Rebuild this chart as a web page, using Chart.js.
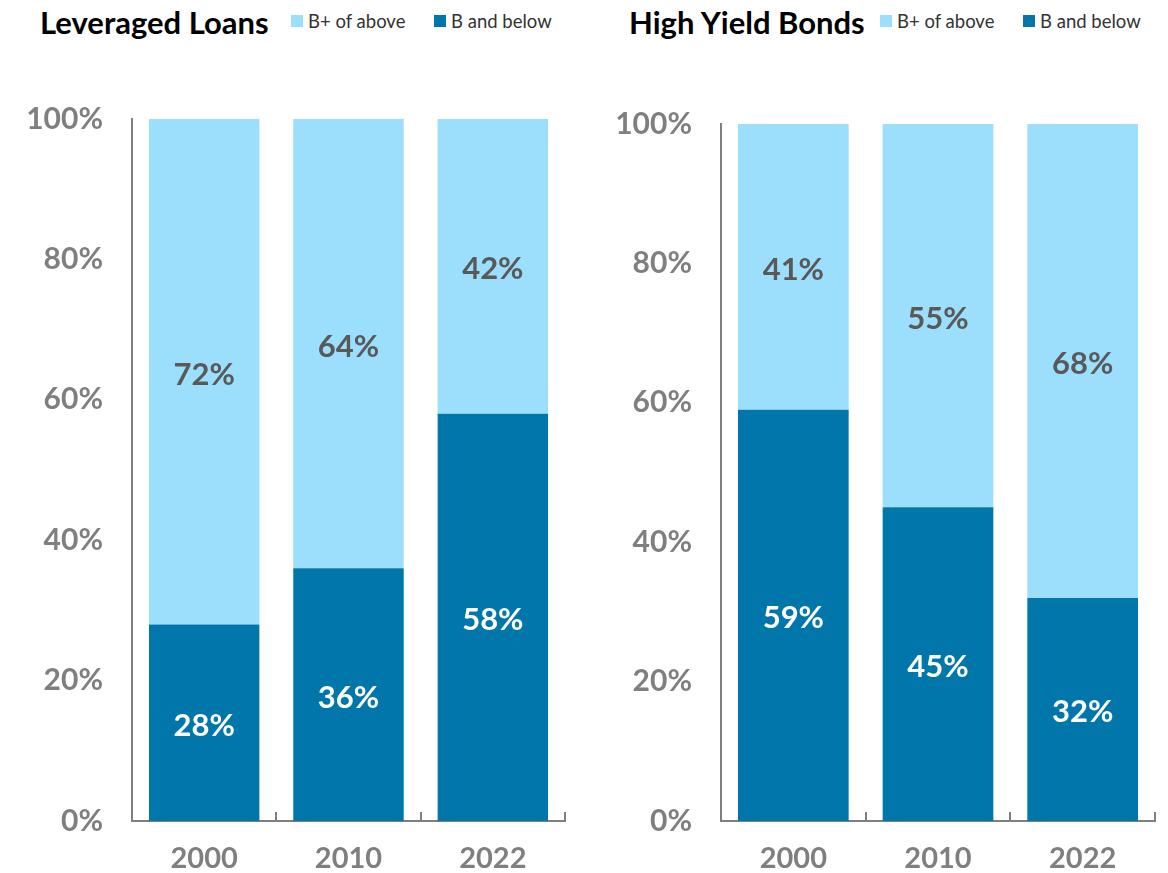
<!DOCTYPE html>
<html>
<head>
<meta charset="utf-8">
<script src="https://cdn.jsdelivr.net/npm/chart.js@4"></script>
<style>
  html, body { margin: 0; padding: 0; background: #fff; }
  body { width: 1168px; height: 873px; position: relative; overflow: hidden; font-family: Lato, "Open Sans", sans-serif; }
  .panel { position: absolute; top: 0; width: 584px; height: 873px; }
  .head__title { position: absolute; top: 2px; font-weight: 700; font-size: 31px; line-height: 40px; color: #000; white-space: nowrap; }
  .key { position: absolute; top: 10px; display: flex; align-items: center; font-size: 18.5px; line-height: 22px; color: #333; white-space: nowrap; }
  .key i { display: inline-block; width: 12px; height: 12px; margin-right: 5px; }
  .plot { position: absolute; left: 0; top: 60px; width: 584px; height: 813px; }
</style>
</head>
<body>
<div class="panel" style="left:0">
  <span class="head__title" style="left:40px">Leveraged Loans</span>
  <span class="key" style="left:291px"><i style="background:#9BDFFD"></i>B+ of above</span>
  <span class="key" style="left:434px"><i style="background:#0076AA"></i>B and below</span>
  <div class="plot"><canvas id="chartLoans"></canvas></div>
</div>
<div class="panel" style="left:584px">
  <span class="head__title" style="left:45px">High Yield Bonds</span>
  <span class="key" style="left:296px"><i style="background:#9BDFFD"></i>B+ of above</span>
  <span class="key" style="left:439px"><i style="background:#0076AA"></i>B and below</span>
  <div class="plot"><canvas id="chartBonds"></canvas></div>
</div>
<script>
/* global Chart */

const years = ["2000", "2010", "2022"];
const loansBelow = [28, 36, 58];
const loansAbove = [72, 64, 42];
const bondsBelow = [59, 45, 32];
const bondsAbove = [41, 55, 68];
const yTicks = [0, 20, 40, 60, 80, 100];

const DARK = "#0076AA";
const LIGHT = "#9BDFFD";
const AXIS = "#7F7F7F";
const FONT = "Lato, 'Open Sans', sans-serif";

// small upward ticks between categories on the x axis
const boundaryTicks = {
  id: "boundaryTicks",
  afterDraw(chart) {
    const { ctx, scales: { x } } = chart;
    const n = x.ticks.length;
    const step = (x.getPixelForValue(1) - x.getPixelForValue(0));
    ctx.save();
    ctx.strokeStyle = AXIS;
    ctx.lineWidth = 2;
    for (let i = 1; i <= n; i++) {
      const px = Math.round(x.getPixelForValue(i) - step / 2);
      ctx.beginPath();
      ctx.moveTo(px, x.top);
      ctx.lineTo(px, x.top - 9);
      ctx.stroke();
    }
    ctx.restore();
  }
};

// percent labels centred in each segment
const segmentLabels = {
  id: "segmentLabels",
  afterDatasetsDraw(chart) {
    const { ctx } = chart;
    ctx.save();
    ctx.font = `700 31px ${FONT}`;
    ctx.textAlign = "center";
    ctx.textBaseline = "middle";
    chart.data.datasets.forEach((ds, di) => {
      const meta = chart.getDatasetMeta(di);
      ctx.fillStyle = ds.labelColor;
      meta.data.forEach((bar, i) => {
        const mid = (bar.y + bar.base) / 2;
        ctx.fillText(`${ds.data[i]}%`, bar.x, mid + 3);
      });
    });
    ctx.restore();
  }
};

function stackedChart(canvasId, below, above, topPad, axisWidth, rightPad) {
  const canvas = document.getElementById(canvasId);
  return new Chart(canvas.getContext("2d"), {
    type: "bar",
    data: {
      labels: years,
      datasets: [
        { label: "B and below", data: below, backgroundColor: DARK, labelColor: "#FFFFFF" },
        { label: "B+ of above", data: above, backgroundColor: LIGHT, labelColor: "#595959" }
      ]
    },
    options: {
      responsive: true,
      maintainAspectRatio: false,
      animation: false,
      layout: { padding: { top: topPad, right: rightPad, left: 0, bottom: 0 } },
      datasets: { bar: { categoryPercentage: 1, barPercentage: 0.765, borderWidth: 0 } },
      plugins: { legend: { display: false }, tooltip: { enabled: false } },
      scales: {
        x: {
          stacked: true,
          grid: { display: false },
          border: { display: true, color: AXIS, width: 2 },
          ticks: { color: AXIS, padding: 12, font: { family: FONT, size: 29, weight: "700" } },
          afterFit(scale) { scale.height = 52; }
        },
        y: {
          stacked: true,
          min: 0,
          max: 100,
          afterBuildTicks(scale) { scale.ticks = yTicks.map((v) => ({ value: v })); },
          grid: { display: false, drawTicks: false },
          border: { display: true, color: AXIS, width: 2 },
          ticks: {
            color: AXIS,
            padding: 29,
            font: { family: FONT, size: 30, weight: "700" },
            callback: (v) => `${v}%`
          },
          afterFit(scale) { scale.width = axisWidth; }
        }
      }
    },
    plugins: [boundaryTicks, segmentLabels]
  });
}

stackedChart("chartLoans", loansBelow, loansAbove, 59, 132, 19);
stackedChart("chartBonds", bondsBelow, bondsAbove, 64, 137, 13);
</script>
</body>
</html>
